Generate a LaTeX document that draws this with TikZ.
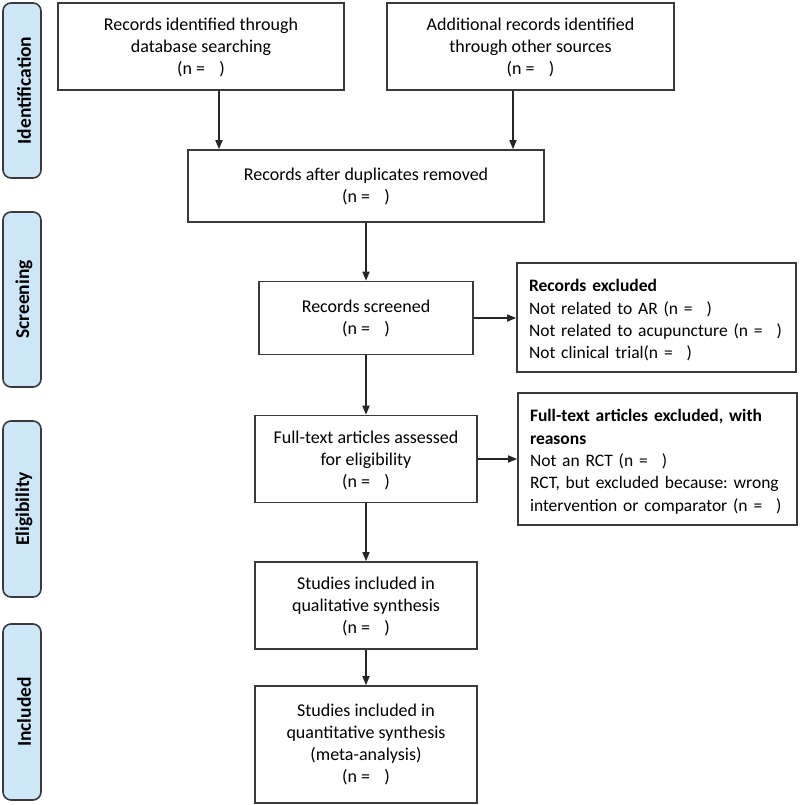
\documentclass[tikz,border=0pt]{standalone}
\usepackage{fontspec}
\setmainfont{Carlito}
\usetikzlibrary{arrows.meta,calc}
\definecolor{tabfill}{HTML}{CDE6F8}
\definecolor{edge}{HTML}{3A3A3A}
\frenchspacing
\begin{document}
\begin{tikzpicture}[x=1pt,y=-1pt,
  box/.style={draw=edge,line width=1.6pt,fill=white,align=center,inner sep=2pt,
    font=\fontsize{18}{22}\selectfont},
  lower/.style={text depth=0pt},
  exbox/.style={draw=edge,line width=1.6pt,fill=white,align=left,inner xsep=12pt,
    inner ysep=2pt,font=\fontsize{17.5}{22.3}\selectfont,text height=18pt},
  tab/.style={draw=edge,line width=1.6pt,fill=tabfill,rounded corners=8pt,
    minimum width=38pt,inner sep=0pt},
  tabtext/.style={rotate=90,font=\fontsize{19.5}{20}\selectfont\bfseries},
  arr/.style={-{Triangle[length=9pt,width=7pt]},line width=1.6pt,draw=black!85}]
\useasboundingbox (0,0) rectangle (800,805);
\newcommand{\nn}{(n =\hspace{0.8em})}
% phase tabs
\node[tab,minimum height=175pt] (t1) at (22,90.5) {};
\node[tabtext] at ([xshift=2pt]t1.center) {Identification};
\node[tab,minimum height=175pt] (t2) at (22,299.5) {};
\node[tabtext] at ([xshift=2pt]t2.center) {Screening};
\node[tab,minimum height=176pt] (t3) at (22,509) {};
\node[tabtext] at ([xshift=2pt]t3.center) {Eligibility};
\node[tab,minimum height=176pt] (t4) at (22,712) {};
\node[tabtext] at ([xshift=2pt]t4.center) {Included};
% boxes
\node[box,lower,minimum width=286pt,minimum height=87pt] (b1) at (201,46.5)
  {Records identified through\\database searching\\\nn};
\node[box,lower,minimum width=287pt,minimum height=87pt] (b2) at (530.5,46.5)
  {Additional records identified\\through other sources\\\nn};
\node[box,minimum width=356pt,minimum height=72pt] (dup) at (366,186)
  {Records after duplicates removed\\\nn};
\node[box,minimum width=214pt,minimum height=73pt] (scr) at (366,318)
  {Records screened\\\nn};
\node[exbox,text width=255pt,minimum height=109pt] (ex1) at (656.5,317.5)
  {\textbf{Records excluded}\\Not related to AR \nn\\Not related to acupuncture \nn\\Not clinical trial\nn};
\node[box,lower,minimum width=222pt,minimum height=87pt] (ft) at (366,459)
  {Full-text articles assessed\\for eligibility\\\nn};
\node[exbox,text width=255pt,minimum height=132pt] (ex2) at (657.5,459)
  {\textbf{Full-text articles excluded, with}\\\textbf{reasons}\\Not an RCT \nn\\RCT, but excluded because: wrong\\intervention or comparator \nn};
\node[box,lower,minimum width=222pt,minimum height=87pt] (ql) at (366,605.5)
  {Studies included in\\qualitative synthesis\\\nn};
\node[box,minimum width=222pt,minimum height=117pt] (qn) at (366,744.5)
  {Studies included in\\quantitative synthesis\\(meta-analysis)\\\nn};
% arrows
\draw[arr] ([xshift=18pt]b1.south) -- ([xshift=18pt]b1.south |- dup.north);
\draw[arr] ([xshift=-17.5pt]b2.south) -- ([xshift=-17.5pt]b2.south |- dup.north);
\draw[arr] (dup.south) -- (scr.north);
\draw[arr] (scr.east) -- (scr.east -| ex1.west);
\draw[arr] (scr.south) -- (ft.north);
\draw[arr] (ft.east) -- (ft.east -| ex2.west);
\draw[arr] (ft.south) -- (ql.north);
\draw[arr] (ql.south) -- (qn.north);
\end{tikzpicture}
\end{document}
